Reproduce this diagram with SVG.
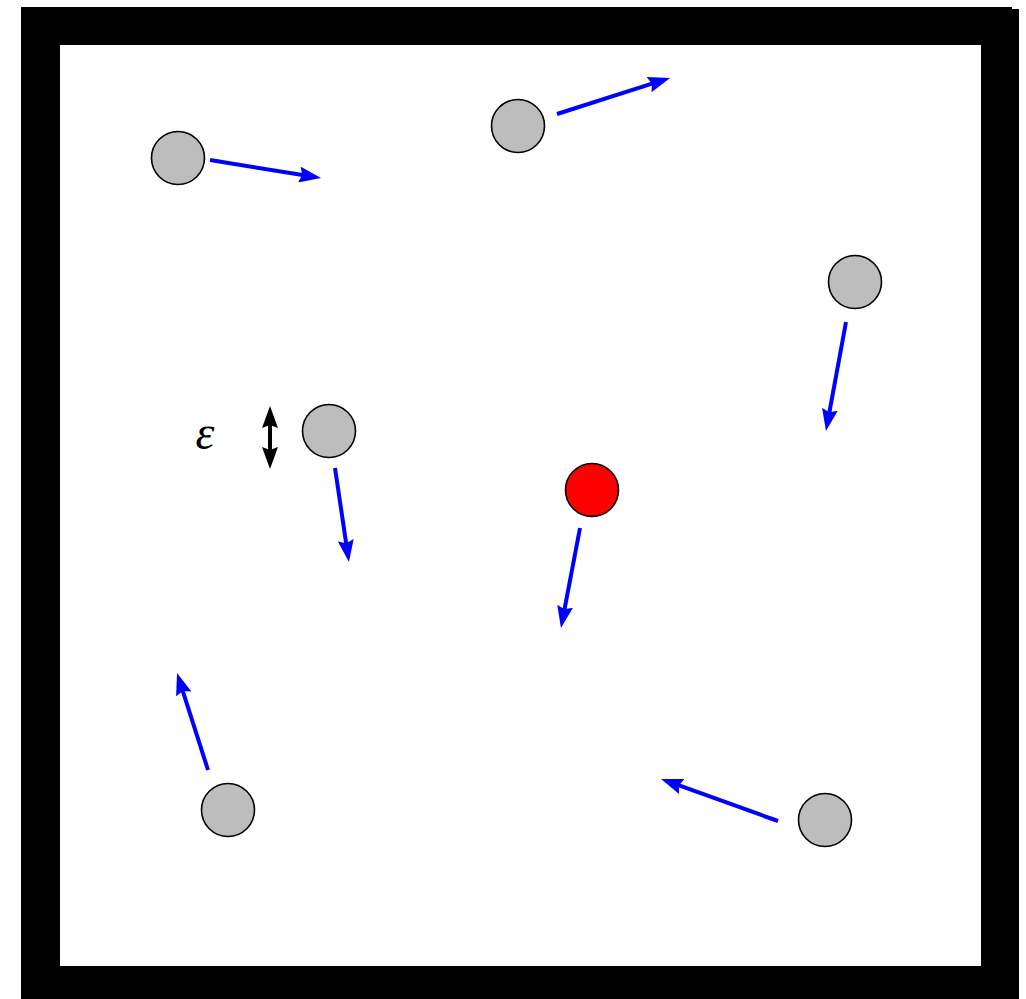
<svg xmlns="http://www.w3.org/2000/svg" width="1026" height="999" viewBox="0 0 1026 999">
<style>
.wall{fill:#000}
.p{fill:#bdbdbd;stroke:#000;stroke-width:1.6}
.t{fill:#ff0000;stroke:#000;stroke-width:1.6}
.v{stroke:#0000ff;stroke-width:4;fill:none;marker-end:url(#ah)}
.d{stroke:#000;stroke-width:4;fill:none;marker-end:url(#bh);marker-start:url(#bs)}
</style>
<defs>
<marker id="ah" markerUnits="userSpaceOnUse" viewBox="0 0 22 16" refX="8" refY="8" markerWidth="22" markerHeight="16" orient="auto"><path d="M0,0 L22,8 L0,16 L3,8 Z" fill="#0000ff"/></marker>
<marker id="bh" markerUnits="userSpaceOnUse" viewBox="0 0 22 16" refX="8" refY="8" markerWidth="22" markerHeight="16" orient="auto"><path d="M0,0 L22,8 L0,16 L3,8 Z" fill="#000"/></marker>
<marker id="bs" markerUnits="userSpaceOnUse" viewBox="0 0 22 16" refX="14" refY="8" markerWidth="22" markerHeight="16" orient="auto"><path d="M22,0 L0,8 L22,16 L19,8 Z" fill="#000"/></marker>
</defs>
<rect width="1026" height="999" fill="#fff"/>
<g id="walls">
<rect class="wall" x="21" y="7" width="991" height="38"/>
<rect class="wall" x="21" y="7" width="39" height="992"/>
<rect class="wall" x="981" y="9" width="38" height="990"/>
<rect class="wall" x="21" y="966" width="998" height="33"/>
</g>
<g id="connectors">
<line class="v" x1="210" y1="160" x2="307.2" y2="175.8"/>
<line class="v" x1="557" y1="114" x2="656.7" y2="82.2"/>
<line class="v" x1="846" y1="322" x2="828.5" y2="417.2"/>
<line class="v" x1="335" y1="468" x2="346.9" y2="548.2"/>
<line class="v" x1="580" y1="528" x2="563.6" y2="614.2"/>
<line class="v" x1="208" y1="770" x2="181.3" y2="686.3"/>
<line class="v" x1="778" y1="821" x2="674.2" y2="783.7"/>
<line class="d" x1="270" y1="420" x2="270" y2="455"/>
</g>
<g id="p1"><circle class="p" cx="178" cy="158" r="26.5"/></g>
<g id="p2"><circle class="p" cx="518" cy="126" r="26.5"/></g>
<g id="p3"><circle class="p" cx="855" cy="282" r="26.5"/></g>
<g id="p4"><circle class="p" cx="329" cy="431" r="26.5"/></g>
<g id="p5"><circle class="t" cx="592" cy="490" r="26.5"/></g>
<g id="p6"><circle class="p" cx="228" cy="810" r="26.5"/></g>
<g id="p7"><circle class="p" cx="825" cy="820" r="26.5"/></g>
<g id="eps"><text x="205" y="449" font-family="Liberation Serif, serif" font-style="italic" font-size="48" text-anchor="middle" fill="#000">ε</text></g>
</svg>
